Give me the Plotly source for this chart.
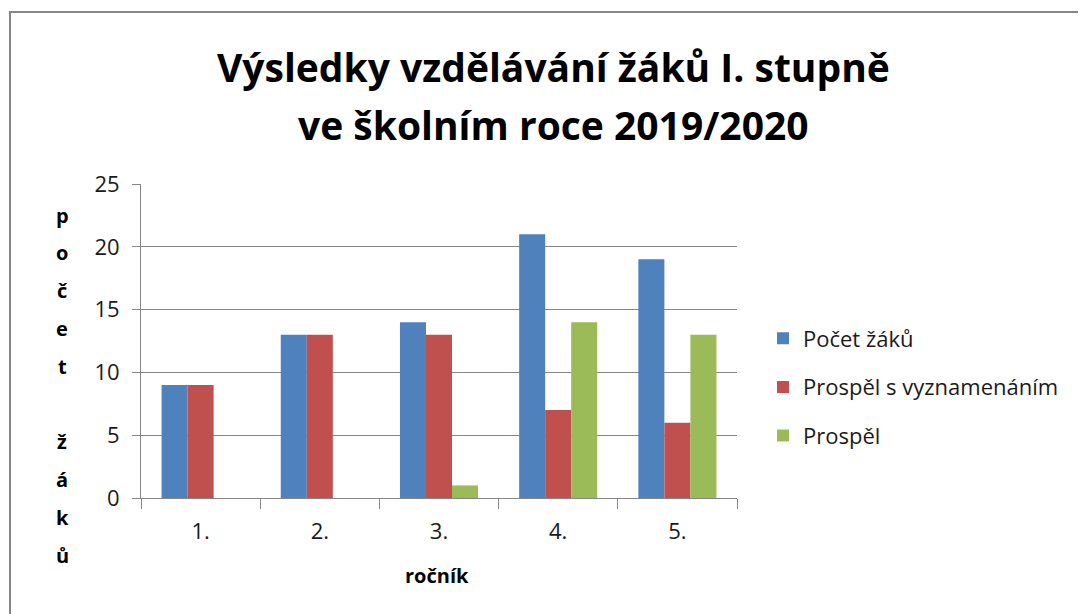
import plotly.graph_objects as go

categories = ["1.", "2.", "3.", "4.", "5."]
pocet_zaku = [9, 13, 14, 21, 19]
prospel_vyz = [9, 13, 13, 7, 6]
prospel = [None, None, 1, 14, 13]
series_names = ["Počet žáků", "Prospěl s vyznamenáním", "Prospěl"]
colors = ["#4F81BD", "#C0504D", "#9BBB59"]
title_lines = ["Výsledky vzdělávání žáků I. stupně", "ve školním roce 2019/2020"]
y_title_letters = ["p", "o", "č", "e", "t", "", "ž", "á", "k", "ů"]
x_title = "ročník"

OFF = 8  # page body margin
W, H = 1086 - OFF, 614 - OFF
# plot area in screen pixels
SL, SR, ST, SB = 141, 737, 184, 498
L, R, T, B = SL - OFF, SR - OFF, ST - OFF, SB - OFF
FONT = "Open Sans"
TXT = "#1a1a1a"

fig = go.Figure()
for i, (name, vals) in enumerate(zip(series_names, [pocet_zaku, prospel_vyz, prospel])):
    fig.add_trace(go.Bar(
        x=categories, y=vals, name=name, marker_color=colors[i],
        marker_line_width=0, legendgroup=name,
    ))

def px_to_paper(sx, sy):
    x, y = sx - OFF, sy - OFF
    return (x - L) / (R - L), (B - y) / (B - T)

annotations = []
for i, line in enumerate(title_lines):
    ax, ay = px_to_paper(553, 67 + i * 58)
    annotations.append(dict(text=f"<b>{line}</b>", x=ax, y=ay, xref="paper", yref="paper",
                            showarrow=False, xanchor="center", yanchor="middle",
                            font=dict(family=FONT, size=39, color="#000000")))
for i, ch in enumerate(y_title_letters):
    if not ch:
        continue
    ax, ay = px_to_paper(62, 215 + i * 37.8)
    annotations.append(dict(text=f"<b>{ch}</b>", x=ax, y=ay, xref="paper", yref="paper",
                            showarrow=False, xanchor="center", yanchor="middle",
                            font=dict(family=FONT, size=20, color="#000000")))
ax, ay = px_to_paper(437, 575)
annotations.append(dict(text=f"<b>{x_title}</b>", x=ax, y=ay, xref="paper", yref="paper",
                        showarrow=False, xanchor="center", yanchor="middle",
                        font=dict(family=FONT, size=20, color="#000000")))

bx0, by1 = px_to_paper(10, 12)
bx1, by0 = px_to_paper(1100, 630)
lx, ly = px_to_paper(763, 387)

fig.update_layout(
    width=W, height=H,
    margin=dict(l=L, r=W - R, t=T, b=H - B, autoexpand=False),
    paper_bgcolor="white", plot_bgcolor="white",
    barmode="group", bargap=0.345, bargroupgap=0,
    font=dict(family=FONT, size=22, color=TXT),
    annotations=annotations,
    legend=dict(x=lx, y=ly, xanchor="left", yanchor="middle",
                font=dict(family=FONT, size=22, color=TXT), tracegroupgap=17,
                itemwidth=30, bgcolor="rgba(0,0,0,0)"),
    shapes=[dict(type="rect", xref="paper", yref="paper", x0=bx0, x1=bx1, y0=by0, y1=by1,
                 line=dict(color="#878787", width=2), layer="below")],
    xaxis=dict(showline=True, linecolor="#868686", linewidth=1, ticks="outside",
               tickson="boundaries", ticklen=10, tickcolor="#868686", showgrid=False,
               ticklabelstandoff=14,
               tickfont=dict(family=FONT, size=22, color=TXT), fixedrange=True),
    yaxis=dict(range=[0, 25], dtick=5, showline=True, linecolor="#868686", linewidth=1,
               ticks="outside", ticklen=8, tickcolor="#868686", showgrid=True,
               gridcolor="#868686", gridwidth=1, zeroline=False, ticklabelstandoff=8,
               tickfont=dict(family=FONT, size=22, color=TXT), fixedrange=True),
)

fig.write_html("out.html")
